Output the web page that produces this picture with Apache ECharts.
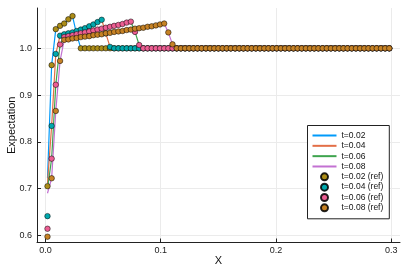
<!DOCTYPE html>
<html>
<head>
<meta charset="utf-8">
<script src="https://cdn.jsdelivr.net/npm/echarts@6/dist/echarts.min.js"></script>
<style>html,body{margin:0;padding:0;background:#fff}#c{width:409px;height:273px}</style>
</head>
<body>
<div id="c"></div>
<script>
// x positions (cell centres)
const X = [0.0018,0.0054,0.0090,0.0127,0.0163,0.0199,0.0235,0.0271,0.0307,0.0343,
0.0380,0.0416,0.0452,0.0488,0.0524,0.0560,0.0596,0.0633,0.0669,0.0705,
0.0741,0.0777,0.0813,0.0849,0.0886,0.0922,0.0958,0.0994,0.1030,0.1066,
0.1102,0.1139,0.1175,0.1211,0.1247,0.1283,0.1319,0.1355,0.1392,0.1428,
0.1464,0.1500,0.1536,0.1572,0.1608,0.1645,0.1681,0.1717,0.1753,0.1789,
0.1825,0.1861,0.1898,0.1934,0.1970,0.2006,0.2042,0.2078,0.2114,0.2151,
0.2187,0.2223,0.2259,0.2295,0.2331,0.2367,0.2404,0.2440,0.2476,0.2512,
0.2548,0.2584,0.2620,0.2657,0.2693,0.2729,0.2765,0.2801,0.2837,0.2873,
0.2910,0.2946,0.2982];

// numerical solutions (lines)
const line002 = [0.722,0.964,1.041,1.048,1.053,1.062,1.069,1.030,1,1,
1,1,1,1,1,1,1,1,1,1, 1,1,1,1,1,1,1,1,1,1, 1,1,1,1,1,1,1,1,1,1,
1,1,1,1,1,1,1,1,1,1, 1,1,1,1,1,1,1,1,1,1, 1,1,1,1,1,1,1,1,1,1,
1,1,1,1,1,1,1,1,1,1, 1,1,1];
const line004 = [0.712,0.834,0.988,1.027,1.030,1.032,1.034,1.037,1.040,1.043,
1.047,1.051,1.056,1.061,1.032,1.003,1,1,1,1, 1,1,1,1,1,1,1,1,1,1, 1,1,1,1,1,1,1,1,1,1,
1,1,1,1,1,1,1,1,1,1, 1,1,1,1,1,1,1,1,1,1, 1,1,1,1,1,1,1,1,1,1,
1,1,1,1,1,1,1,1,1,1, 1,1,1];
const line006 = [0.700,0.764,0.922,1.008,1.024,1.026,1.028,1.030,1.032,1.034,
1.036,1.038,1.040,1.042,1.044,1.046,1.048,1.050,1.052,1.055,
1.057,1.035,1.007,1,1,1,1,1,1,1, 1,1,1,1,1,1,1,1,1,1,
1,1,1,1,1,1,1,1,1,1, 1,1,1,1,1,1,1,1,1,1, 1,1,1,1,1,1,1,1,1,1,
1,1,1,1,1,1,1,1,1,1, 1,1,1];
const line008 = [0.690,0.722,0.866,0.973,1.018,1.019,1.021,1.022,1.024,1.025,
1.026,1.028,1.029,1.030,1.032,1.033,1.035,1.036,1.037,1.039,
1.040,1.042,1.043,1.044,1.046,1.047,1.049,1.051,1.053,1.034,
1.0085,1,1,1,1,1,1,1,1,1, 1,1,1,1,1,1,1,1,1,1, 1,1,1,1,1,1,1,1,1,1,
1,1,1,1,1,1,1,1,1,1, 1,1,1,1,1,1,1,1,1,1, 1,1,1];

// reference values (markers)
const ref002 = [0.705,0.964,1.041,1.048,1.053,1.062,1.069,1.030,1,1,
1,1,1,1,1,1,1,1,1,1, 1,1,1,1,1,1,1,1,1,1, 1,1,1,1,1,1,1,1,1,1,
1,1,1,1,1,1,1,1,1,1, 1,1,1,1,1,1,1,1,1,1, 1,1,1,1,1,1,1,1,1,1,
1,1,1,1,1,1,1,1,1,1, 1,1,1];
const ref004 = [0.641,0.834,0.988,1.027,1.030,1.032,1.034,1.037,1.040,1.043,
1.047,1.051,1.056,1.061,1.032,1.003,1,1,1,1, 1,1,1,1,1,1,1,1,1,1, 1,1,1,1,1,1,1,1,1,1,
1,1,1,1,1,1,1,1,1,1, 1,1,1,1,1,1,1,1,1,1, 1,1,1,1,1,1,1,1,1,1,
1,1,1,1,1,1,1,1,1,1, 1,1,1];
const ref006 = [0.614,0.764,0.922,1.008,1.024,1.026,1.028,1.030,1.032,1.034,
1.036,1.038,1.040,1.042,1.044,1.046,1.048,1.050,1.052,1.055,
1.057,1.035,1.007,1,1,1,1,1,1,1, 1,1,1,1,1,1,1,1,1,1,
1,1,1,1,1,1,1,1,1,1, 1,1,1,1,1,1,1,1,1,1, 1,1,1,1,1,1,1,1,1,1,
1,1,1,1,1,1,1,1,1,1, 1,1,1];
const ref008 = [0.597,0.722,0.866,0.973,1.018,1.019,1.021,1.022,1.024,1.025,
1.026,1.028,1.029,1.030,1.032,1.033,1.035,1.036,1.037,1.039,
1.040,1.042,1.043,1.044,1.046,1.047,1.049,1.051,1.053,1.034,
1.0085,1,1,1,1,1,1,1,1,1, 1,1,1,1,1,1,1,1,1,1, 1,1,1,1,1,1,1,1,1,1,
1,1,1,1,1,1,1,1,1,1, 1,1,1,1,1,1,1,1,1,1, 1,1,1];

const lineNames = ['t=0.02','t=0.04','t=0.06','t=0.08'];
const refNames = ['t=0.02 (ref)','t=0.04 (ref)','t=0.06 (ref)','t=0.08 (ref)'];
const xTicks = [0, 0.1, 0.2, 0.3];
const yTicks = [0.6, 0.7, 0.8, 0.9, 1.0];

const lineColors = ['#009AFA','#E36F47','#3EA44E','#C371D2'];
const refColors = ['#AC8D18','#00A9AD','#ED5E93','#C68225'];
const lineData = [line002, line004, line006, line008];
const refData = [ref002, ref004, ref006, ref008];

const pairs = arr => X.map((x, i) => [x, arr[i]]);
const FONT = 'Liberation Sans';

const series = [];
lineData.forEach((d, i) => series.push({
  name: lineNames[i], type: 'line', data: pairs(d), symbol: 'none',
  lineStyle: {color: lineColors[i], width: 1.2}, itemStyle: {color: lineColors[i]},
  z: 2
}));
refData.forEach((d, i) => series.push({
  name: refNames[i], type: 'scatter', data: pairs(d), symbol: 'circle', symbolSize: 5.5,
  itemStyle: {color: refColors[i], borderColor: 'rgba(0,0,0,0.85)', borderWidth: 0.6, opacity: 1},
  z: 3
}));

const chart = echarts.init(document.getElementById('c'), null, {renderer: 'canvas'});
chart.setOption({
  animation: false,
  backgroundColor: '#fff',
  grid: {left: 37, right: 9, top: 8, bottom: 30.5, containLabel: false, outerBoundsMode: 'none'},
  xAxis: {
    type: 'value', min: -0.0073, max: 0.3075,
    name: 'X', nameLocation: 'middle', nameGap: 12.5, nameMoveOverlap: false,
    nameTextStyle: {fontFamily: FONT, fontSize: 11, color: '#111'},
    axisLine: {show: true, onZero: false, lineStyle: {color: '#222', width: 1}},
    axisTick: {show: true, inside: true, length: 4, customValues: xTicks, lineStyle: {color: '#222', width: 1}},
    axisLabel: {customValues: xTicks, fontFamily: FONT, fontSize: 9, color: '#222', margin: 4,
      formatter: v => v.toFixed(1)},
    splitLine: {show: true, lineStyle: {color: '#ebebeb', width: 1}}
  },
  yAxis: {
    type: 'value', min: 0.5846, max: 1.0862,
    name: 'Expectation', nameLocation: 'middle', nameGap: 19.5, nameRotate: 90, nameMoveOverlap: false,
    nameTextStyle: {fontFamily: FONT, fontSize: 11, color: '#111'},
    axisLine: {show: true, onZero: false, lineStyle: {color: '#222', width: 1}},
    axisTick: {show: true, inside: true, length: 4, customValues: yTicks, lineStyle: {color: '#222', width: 1}},
    axisLabel: {customValues: yTicks, fontFamily: FONT, fontSize: 9, color: '#222', margin: 5,
      formatter: v => v.toFixed(1)},
    splitLine: {show: true, lineStyle: {color: '#ebebeb', width: 1}}
  },
  legend: {
    orient: 'vertical', left: 307.5, top: 125.5,
    padding: [5, 6, 6, 4],
    itemWidth: 24, itemHeight: 7, itemGap: 0.33,
    backgroundColor: '#fff', borderColor: '#222', borderWidth: 1, borderRadius: 0,
    textStyle: {fontFamily: FONT, fontSize: 8.5, color: '#111', lineHeight: 10},
    data: lineNames.map(n => ({name: n, itemStyle: {opacity: 0}}))
      .concat(refNames.map(n => ({name: n, icon: 'circle'})))
  },
  series: series
});
</script>
</body>
</html>
